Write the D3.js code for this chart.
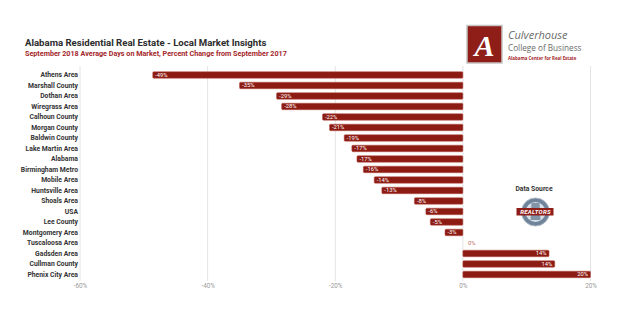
<!DOCTYPE html>
<html><head><meta charset="utf-8">
<script src="https://cdn.jsdelivr.net/npm/d3@7"></script>
<style>body{margin:0;background:#fff}svg{display:block;font-family:Roboto,sans-serif}</style>
</head><body><svg id="c" width="640" height="326"></svg>
<script>
const categories = ["Athens Area","Marshall County","Dothan Area","Wiregrass Area","Calhoun County","Morgan County","Baldwin County","Lake Martin Area","Alabama","Birmingham Metro","Mobile Area","Huntsville Area","Shoals Area","USA","Lee County","Montgomery Area","Tuscaloosa Area","Gadsden Area","Cullman County","Phenix City Area"];
const values = [-48.6,-35.0,-29.2,-28.4,-22.0,-20.9,-18.6,-17.4,-16.6,-15.6,-13.9,-12.7,-7.6,-5.8,-5.1,-2.8,0,13.5,14.4,20.0];
const ticks = [-60,-40,-20,0,20];
const title = "Alabama Residential Real Estate - Local Market Insights";
const subtitle = "September 2018 Average Days on Market, Percent Change from September 2017";

const svg = d3.select("#c");
const red = "#8c1b13";
const x = d3.scaleLinear().domain([-60,20]).range([80,590.5]);
const y = d3.scaleBand().domain(categories).range([69.7,279.7]).paddingInner(0.38).paddingOuter(0.19);

svg.append("text").attr("x",25).attr("y",45.5).attr("font-size",9.6).attr("font-weight","bold").attr("fill","#2b2b2b").text(title);
svg.append("text").attr("x",25).attr("y",56).attr("font-size",7.2).attr("font-weight","bold").attr("fill","#a3262a").text(subtitle);

// grid
const g = svg.append("g");
g.selectAll("line.grid").data(ticks).join("line")
 .attr("x1",d=>x(d)).attr("x2",d=>x(d)).attr("y1",66).attr("y2",281)
 .attr("stroke","#e4e4e4").attr("stroke-width",1);

// axis labels
const xa = svg.append("g").attr("transform","translate(0,281)")
 .call(d3.axisBottom(x).tickValues(ticks).tickSize(0).tickFormat(d=>d+"%"));
xa.select(".domain").remove();
xa.selectAll("text").attr("font-size",6.3).attr("fill","#9a9a9a").attr("dy","0.6em").attr("font-family","Roboto,sans-serif");

const ya = svg.append("g").attr("transform","translate(78,0)")
 .call(d3.axisLeft(y).tickSize(0).tickPadding(0));
ya.select(".domain").remove();
ya.selectAll("text").attr("font-size",6.8).attr("font-weight","bold").attr("fill","#333").attr("font-family","Roboto,sans-serif");

// bars
svg.selectAll("rect.bar").data(values).join("rect")
 .attr("x",d=>x(Math.min(0,d))).attr("width",d=>Math.abs(x(d)-x(0)))
 .attr("y",(d,i)=>y(categories[i])).attr("height",y.bandwidth())
 .attr("fill",red).attr("stroke","#b8544d").attr("stroke-width",0.5).attr("rx",1);

svg.selectAll("text.lab").data(values).join("text")
 .attr("x",d=> d<0 ? x(d)+2.5 : d>0 ? x(d)-2.5 : x(0)+5)
 .attr("y",(d,i)=>y(categories[i])+y.bandwidth()/2)
 .attr("dy","0.35em").attr("font-size",5.8)
 .attr("text-anchor",d=>d>0?"end":"start")
 .attr("fill",d=>d===0?"#c46a64":"#fff")
 .text(d=>Math.round(d)+"%");

// logo
const lg = svg.append("g");
lg.append("rect").attr("x",467).attr("y",25.5).attr("width",35).attr("height",37.5).attr("fill","#8f1d18").attr("stroke","#c4c4c4").attr("stroke-width",1.5);
lg.append("text").attr("x",484.5).attr("y",56).attr("text-anchor","middle").attr("font-size",30).attr("font-family","Liberation Serif,serif").attr("font-style","italic").attr("font-weight","bold").attr("fill","#fff").text("A");
lg.append("text").attr("x",508).attr("y",39).attr("font-size",11).attr("font-style","italic").attr("fill","#6b6b6b").attr("font-family","Open Sans,sans-serif").text("Culverhouse");
lg.append("text").attr("x",508).attr("y",51).attr("font-size",8.2).attr("fill","#6b6b6b").attr("font-family","Open Sans,sans-serif").text("College of Business");
lg.append("text").attr("x",508).attr("y",59.8).attr("font-size",4.4).attr("font-weight","bold").attr("fill","#a3262a").attr("font-family","Open Sans,sans-serif").text("Alabama Center for Real Estate");

// data source
svg.append("text").attr("x",534).attr("y",190.5).attr("text-anchor","middle").attr("font-size",6.8).attr("font-weight","bold").attr("fill","#333").text("Data Source");
const b = svg.append("g").attr("transform","translate(535.5,212)");
b.append("circle").attr("r",14).attr("fill","#6f849b").attr("stroke","#aab6c3").attr("stroke-width",1);
b.append("circle").attr("r",10).attr("fill","#d9dfe6");
b.append("path").attr("d","M-4,-9 L4,-9 L5,8 L-5,8 Z").attr("fill","#8194a8");
b.append("rect").attr("x",-19).attr("y",-4).attr("width",37).attr("height",7.5).attr("fill","#8f1d18");
b.append("text").attr("y",2).attr("text-anchor","middle").attr("font-size",6).attr("font-weight","bold").attr("font-style","italic").attr("fill","#fff").attr("letter-spacing",0.3).text("REALTORS");
</script></body></html>
